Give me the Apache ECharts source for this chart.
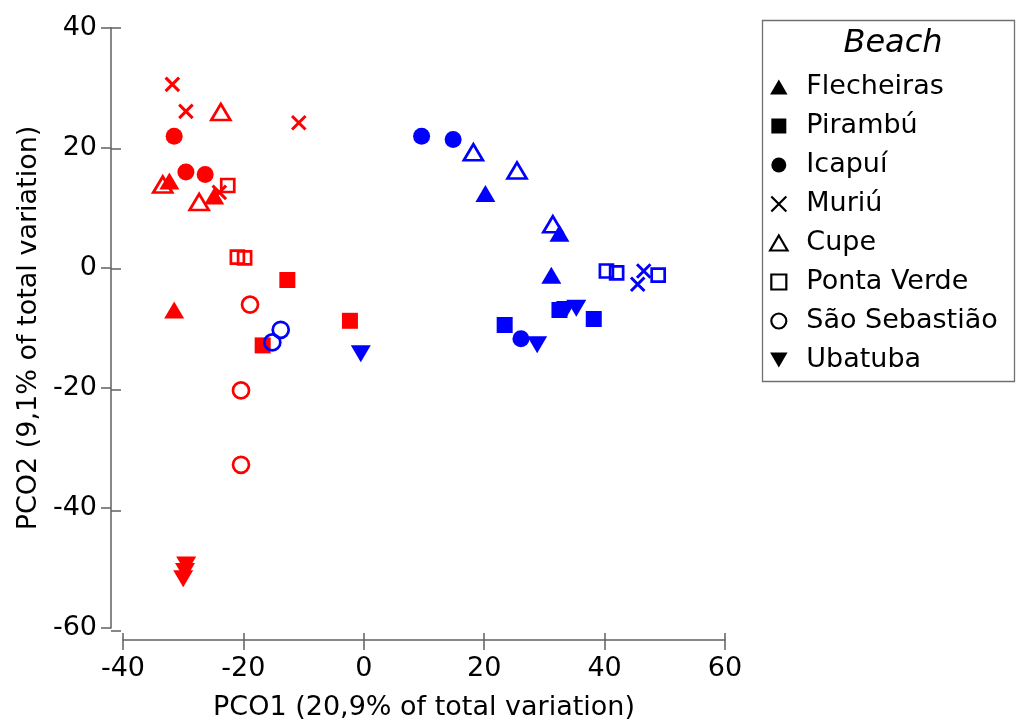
<!DOCTYPE html>
<html>
<head>
<meta charset="utf-8">
<script src="https://cdn.jsdelivr.net/npm/echarts@6/dist/echarts.min.js"></script>
<style>
html,body{margin:0;padding:0;background:#fff;}
#chart{width:1017px;height:726px;}
</style>
</head>
<body>
<div id="chart"></div>
<script>
// ---------- DATA ----------
const beaches = ['Flecheiras', 'Pirambú', 'Icapuí', 'Muriú', 'Cupe', 'Ponta Verde', 'São Sebastião', 'Ubatuba'];

// red group
const flecheirasRed   = [[-32.3, 14.5], [-24.85, 12.0], [-31.5, -7.0]];
const pirambuRed      = [[-12.7, -2.0], [-16.8, -12.9], [-2.3, -8.8]];
const icapuiRed       = [[-31.5, 21.95], [-29.55, 16.0], [-26.35, 15.6]];
const muriuRed        = [[-31.8, 30.6], [-29.55, 26.1], [-10.8, 24.2], [-24.0, 12.6]];
const cupeRed         = [[-23.75, 26.0], [-33.4, 13.9], [-27.35, 11.0]];
const pontaVerdeRed   = [[-22.6, 13.75], [-21.0, 1.8], [-19.8, 1.7]];
const saoSebastiaoRed = [[-18.9, -6.1], [-20.4, -20.4], [-20.4, -32.8]];
const ubatubaRed      = [[-29.5, -49.5], [-29.7, -50.6], [-30.0, -51.8]];

// blue group
const flecheirasBlue   = [[20.2, 12.4], [32.5, 5.8], [31.15, -1.2]];
const pirambuBlue      = [[23.4, -9.5], [32.5, -7.0], [38.2, -8.5]];
const icapuiBlue       = [[9.6, 21.95], [14.84, 21.4], [26.1, -11.8]];
const muriuBlue        = [[46.5, -0.5], [45.5, -2.7]];
const cupeBlue         = [[18.2, 19.3], [25.45, 16.25], [31.4, 7.3]];
const pontaVerdeBlue   = [[40.3, -0.5], [42.0, -0.8], [48.9, -1.2]];
const saoSebastiaoBlue = [[-13.8, -10.3], [-15.2, -12.4]];
const ubatubaBlue      = [[-0.5, -14.3], [28.8, -12.8], [33.6, -6.9], [35.3, -6.7]];

const xTickValues = [-40, -20, 0, 20, 40, 60];
const yTickValues = [-60, -40, -20, 0, 20, 40];

const xTitle = 'PCO1 (20,9% of total variation)';
const yTitle = 'PCO2 (9,1% of total variation)';
const legendTitle = 'Beach';

// ---------- STYLES ----------
const RED = '#ff0000', BLUE = '#0000ff';
const FONT = 'DejaVu Sans';
const P_X = 'path://M0,0L10,10M10,0L0,10';
const P_DOWN = 'path://M0,0L10,0L5,8.6Z';
const P_UP = 'path://M5,0L10,8.6L0,8.6Z';
const P_SQ = 'path://M0,0L10,0L10,10L0,10Z';
const P_CI = 'path://M5,0A5,5 0 1,1 5,10A5,5 0 1,1 5,0Z';

const markerStyles = {
  'Flecheiras':    {symbol: 'triangle', size: [20, 17], hollow: false},
  'Pirambú':       {symbol: 'rect', size: 16, hollow: false},
  'Icapuí':        {symbol: 'circle', size: 17, hollow: false},
  'Muriú':         {symbol: P_X, size: 13.5, hollow: true, bw: 3},
  'Cupe':          {symbol: 'triangle', size: [19, 16], hollow: true, bw: 2.7},
  'Ponta Verde':   {symbol: 'rect', size: 13, hollow: true, bw: 2.7},
  'São Sebastião': {symbol: 'circle', size: 16, hollow: true, bw: 2.7},
  'Ubatuba':       {symbol: P_DOWN, size: [20, 17], hollow: false}
};
const legendIcons = {
  'Flecheiras': P_UP, 'Pirambú': P_SQ, 'Icapuí': P_CI, 'Muriú': P_X,
  'Cupe': P_UP, 'Ponta Verde': P_SQ, 'São Sebastião': P_CI, 'Ubatuba': P_DOWN
};

const redSets = [flecheirasRed, pirambuRed, icapuiRed, muriuRed, cupeRed, pontaVerdeRed, saoSebastiaoRed, ubatubaRed];
const blueSets = [flecheirasBlue, pirambuBlue, icapuiBlue, muriuBlue, cupeBlue, pontaVerdeBlue, saoSebastiaoBlue, ubatubaBlue];

function makeSeries(name, data, color) {
  const m = markerStyles[name];
  const itemStyle = m.hollow
    ? {color: 'rgba(0,0,0,0)', borderColor: color, borderWidth: m.bw, opacity: 1}
    : {color: color, borderWidth: 0, opacity: 1};
  return {
    type: 'scatter', name: name, data: data,
    xAxisIndex: 0, yAxisIndex: 0,
    symbol: m.symbol, symbolSize: m.size, symbolKeepAspect: false,
    itemStyle: itemStyle,
    emphasis: {disabled: true},
    animation: false
  };
}

const series = [];
beaches.forEach((b, i) => {
  series.push(makeSeries(b, redSets[i], RED));
  series.push(makeSeries(b, blueSets[i], BLUE));
});

const legendData = beaches.map(b => {
  const hollow = markerStyles[b].hollow;
  return {
    name: b,
    icon: legendIcons[b],
    itemStyle: hollow
      ? {color: 'rgba(0,0,0,0)', borderColor: '#000', borderWidth: 2.2}
      : {color: '#000', borderColor: '#000', borderWidth: 0}
  };
});

const AXIS_COLOR = '#606060';
const gridBox = {left: 123, right: 292, top: 28, bottom: 95, containLabel: false};

// main axis (outward ticks, labels, title) in grid 0; duplicate (inward ticks) in grid 1
function axisPair(isX) {
  const ticks = isX ? xTickValues : yTickValues;
  const common = {
    type: 'value', min: ticks[0], max: ticks[ticks.length - 1], interval: 20,
    position: isX ? 'bottom' : 'left', offset: 12,
    splitLine: {show: false}
  };
  const main = Object.assign({}, common, {
    gridIndex: 0,
    name: isX ? xTitle : yTitle, nameLocation: 'middle', nameGap: isX ? 54 : 68,
    nameTextStyle: {fontFamily: FONT, fontSize: 27, color: '#000'},
    axisLine: {show: true, onZero: false, lineStyle: {color: AXIS_COLOR, width: 1.5}},
    axisTick: {show: true, inside: false, length: 10, lineStyle: {color: AXIS_COLOR, width: 1.5}},
    axisLabel: {show: true, margin: isX ? 15 : 14, fontFamily: FONT, fontSize: 27, color: '#000'}
  });
  const dup = Object.assign({}, common, {
    gridIndex: 1,
    axisLine: {show: false, onZero: false},
    axisTick: {show: true, inside: true, length: 10, lineStyle: {color: AXIS_COLOR, width: 1.5}},
    axisLabel: {show: false}
  });
  return [main, dup];
}

const chart = echarts.init(document.getElementById('chart'), null, {renderer: 'canvas'});
chart.setOption({
  animation: false,
  backgroundColor: '#ffffff',
  grid: [Object.assign({}, gridBox), Object.assign({}, gridBox)],
  xAxis: axisPair(true),
  yAxis: axisPair(false),
  legend: {
    show: true,
    orient: 'vertical',
    left: 764, top: 67,
    padding: 5,
    itemWidth: 19, itemHeight: 15,
    itemGap: 9,
    symbolKeepAspect: true,
    selectedMode: false,
    textStyle: {fontFamily: FONT, fontSize: 27, color: '#000', lineHeight: 30, padding: [0, 0, 0, 13]},
    data: legendData
  },
  graphic: [
    {
      type: 'rect', silent: true, z: 0,
      shape: {x: 762.5, y: 20.5, width: 252, height: 361},
      style: {fill: 'none', stroke: '#707070', lineWidth: 1.3}
    },
    {
      type: 'text', silent: true, z: 10,
      style: {
        x: 893, y: 44, text: legendTitle, align: 'center', verticalAlign: 'middle',
        fontFamily: FONT, fontSize: 32, fontStyle: 'italic', fill: '#000'
      }
    }
  ],
  tooltip: {show: false},
  series: series
});
</script>
</body>
</html>
